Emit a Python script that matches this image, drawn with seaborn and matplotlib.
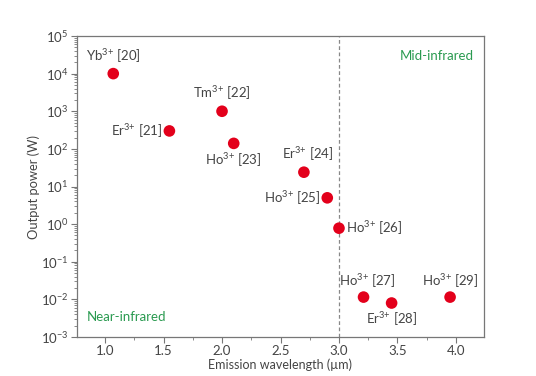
import matplotlib
matplotlib.use("Agg")
import matplotlib.pyplot as plt
import matplotlib.ticker as mticker
import seaborn as sns
import pandas as pd

# Data
ions = ["Yb", "Er", "Tm", "Ho", "Er", "Ho", "Ho", "Ho", "Er", "Ho"]
refs = [20, 21, 22, 23, 24, 25, 26, 27, 28, 29]
wavelength = [1.07, 1.55, 2.0, 2.1, 2.7, 2.9, 3.0, 3.21, 3.45, 3.95]
power = [1e4, 300, 1000, 140, 24, 5, 0.78, 0.0115, 0.008, 0.0115]
x_ticks = [1.0, 1.5, 2.0, 2.5, 3.0, 3.5, 4.0]
y_exponents = [-3, -2, -1, 0, 1, 2, 3, 4, 5]

# Label placement (offset in pixels, alignment)
label_pos = [
    ((0, 9), "center", "bottom"),
    ((-7, 0), "right", "center"),
    ((0, 9), "center", "bottom"),
    ((0, -8), "center", "top"),
    ((4, 9), "center", "bottom"),
    ((-7, 0), "right", "center"),
    ((7, 0), "left", "center"),
    ((4, 7), "center", "bottom"),
    ((0, -7), "center", "top"),
    ((0, 7), "center", "bottom"),
]

sns.set_style("ticks")
plt.rcParams["font.family"] = ["Lato", "DejaVu Sans"]
plt.rcParams["mathtext.default"] = "regular"

txt = "#444444"
spine = "#777777"
green = "#2a9a50"
fs = 9.5

df = pd.DataFrame({"wavelength": wavelength, "power": power})

fig = plt.figure(figsize=(5.36, 3.76), dpi=100)
ax = fig.add_axes([77 / 536, 1 - 337 / 376, (484 - 77) / 536, (337 - 36) / 376])

ax.axvline(3.0, color="#888888", linestyle=(0, (3, 2)), linewidth=0.9, zorder=1)

sns.scatterplot(data=df, x="wavelength", y="power", ax=ax, color="#e3001b",
                s=70, edgecolor="none", zorder=3, legend=False)

ax.set_yscale("log")
ax.set_ylim(1e-3, 1e5)
ax.set_xlim(0.76, 4.24)
ax.set_yticks([10.0 ** k for k in y_exponents])
ax.set_yticklabels([f"$10^{{{k}}}$" for k in y_exponents])
minor_y = [m * 10.0 ** k for k in y_exponents[:-1] for m in range(2, 10)]
ax.set_yticks(minor_y, minor=True)
ax.yaxis.set_minor_formatter(mticker.NullFormatter())
ax.set_xticks(x_ticks)
ax.set_xticklabels([f"{v:.1f}" for v in x_ticks])
ax.xaxis.set_minor_locator(mticker.FixedLocator([1.25, 1.75, 2.25, 2.75, 3.25, 3.75]))

for s in ax.spines.values():
    s.set_visible(True)
    s.set_color(spine)
    s.set_linewidth(0.9)

ax.tick_params(axis="both", which="major", direction="out", length=4, width=0.8,
               color=spine, labelcolor=txt, labelsize=fs, pad=2)
ax.tick_params(axis="both", which="minor", direction="out", length=2, width=0.6,
               color=spine)

ax.set_xlabel("Emission wavelength (µm)", color=txt, fontsize=9, labelpad=1)
ax.set_ylabel("Output power (W)", color=txt, fontsize=9.3, labelpad=1)

for ion, ref, xv, yv, (off, ha, va) in zip(ions, refs, wavelength, power, label_pos):
    ax.annotate(f"{ion}$^{{3{{+}}}}$ [{ref}]", (xv, yv), xytext=off,
                textcoords="offset pixels", ha=ha, va=va, fontsize=fs, color=txt)

ax.text(0.975, 0.955, "Mid-infrared", transform=ax.transAxes, ha="right", va="top",
        color=green, fontsize=fs)
ax.text(0.025, 0.045, "Near-infrared", transform=ax.transAxes, ha="left", va="bottom",
        color=green, fontsize=fs)

fig.savefig("out.png", dpi=100)
